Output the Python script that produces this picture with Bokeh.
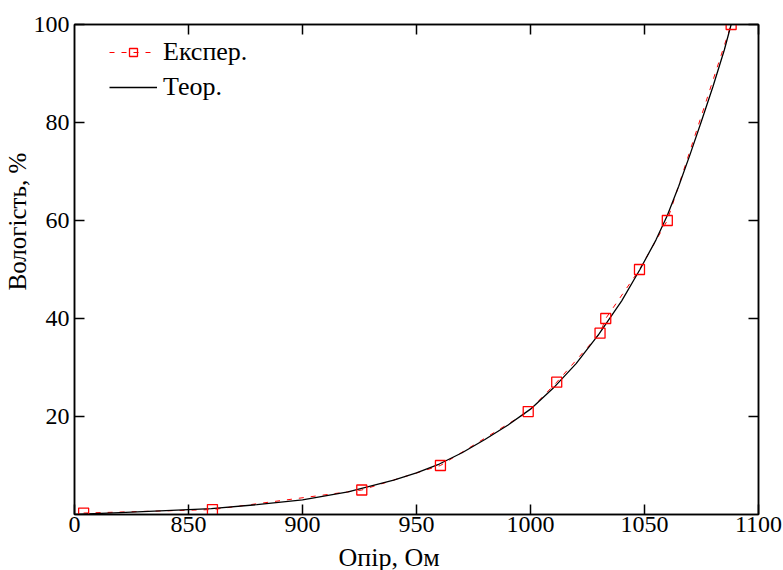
from bokeh.plotting import figure
from bokeh.models import (Range1d, FixedTicker, LinearAxis, Legend, LegendItem, Title)
from bokeh.embed import file_html
from bokeh.resources import INLINE

# Experimental data (resistance, Ohm ; humidity, %)
exp_r = [804, 860.5, 926, 960.5, 999, 1011.5, 1030.5, 1033, 1047.8, 1060, 1088]
exp_h = [0.3, 1.0, 5.0, 10.0, 21.0, 27.0, 37.0, 40.0, 50.0, 60.0, 100.0]

# Theoretical curve
theo_r = [800, 820, 840, 860, 880, 900, 920, 940, 950, 960, 970, 980, 990,
          1000, 1010, 1020, 1030, 1040, 1048, 1055, 1060, 1065, 1070, 1075,
          1080, 1085, 1088]
theo_h = [0.0, 0.4, 0.8, 1.2, 2.0, 3.0, 4.6, 7.0, 8.5, 10.3, 12.6, 15.3, 18.2,
          21.5, 25.8, 30.8, 36.8, 43.6, 50.0, 56.0, 61.0, 67.0, 73.5, 80.3,
          87.3, 94.8, 100.0]

x_ticks = [800, 850, 900, 950, 1000, 1050, 1100]
x_tick_labels = {800: "0"}
y_ticks = [20, 40, 60, 80, 100]

x_title = "Опір, Ом"
y_title = "Вологість, %"
exp_name = "Експер."
theo_name = "Теор."

FONT = "Liberation Serif"

p = figure(frame_width=684, frame_height=490,
           min_border_left=74, min_border_right=25,
           min_border_top=24, min_border_bottom=56,
           x_range=Range1d(800, 1100), y_range=Range1d(0, 100),
           output_backend="svg", toolbar_location=None,
           x_axis_location=None, y_axis_location=None)
p.xgrid.visible = False
p.ygrid.visible = False
p.outline_line_color = "black"
p.outline_line_width = 1.5
p.background_fill_color = "white"
p.border_fill_color = "white"


def make_axis(ticks, show_labels, standoff):
    ax = LinearAxis(ticker=FixedTicker(ticks=ticks))
    ax.axis_line_color = "black"
    ax.axis_line_width = 1.5
    ax.major_tick_in = 10
    ax.major_tick_out = 0
    ax.major_tick_line_color = "black"
    ax.major_tick_line_width = 1.5
    ax.minor_tick_line_color = None
    ax.major_label_standoff = standoff
    if show_labels:
        ax.major_label_text_font = FONT
        ax.major_label_text_font_size = "24px"
        ax.major_label_text_color = "black"
    else:
        ax.major_label_text_font_size = "0px"
        ax.major_label_text_color = None
        ax.major_label_standoff = 0
    return ax


xb = make_axis(x_ticks, True, 2)
xb.major_label_overrides = x_tick_labels
p.add_layout(xb, "below")
p.add_layout(make_axis(x_ticks[1:], False, 0), "above")
p.add_layout(make_axis(y_ticks, True, 5), "left")
p.add_layout(make_axis(y_ticks, False, 0), "right")

p.add_layout(Title(text=x_title, align="left", offset=264, standoff=12,
                   text_font=FONT, text_font_size="26px",
                   text_font_style="normal", text_color="black"), "below")
p.add_layout(Title(text=y_title, align="left", offset=224, standoff=0,
                   text_font=FONT, text_font_size="25px",
                   text_font_style="normal", text_color="black"), "left")

r_dash = p.line(exp_r, exp_h, line_color="red", line_width=1, line_dash="5 7")
r_theo = p.line(theo_r, theo_h, line_color="black", line_width=1.3)
r_exp = p.scatter(exp_r, exp_h, marker="square", size=10, line_color="red",
                  line_width=1.3, fill_color=None)

legend = Legend(items=[LegendItem(label=exp_name, renderers=[r_dash, r_exp]),
                       LegendItem(label=theo_name, renderers=[r_theo])],
                location=(35, 412), orientation="vertical",
                border_line_color=None, background_fill_alpha=0,
                label_text_font=FONT, label_text_font_size="26px",
                label_text_color="black", glyph_width=48, glyph_height=20,
                label_standoff=6, spacing=5, padding=0, margin=0)
p.add_layout(legend)

open("out.html", "w").write(file_html(p, INLINE))
